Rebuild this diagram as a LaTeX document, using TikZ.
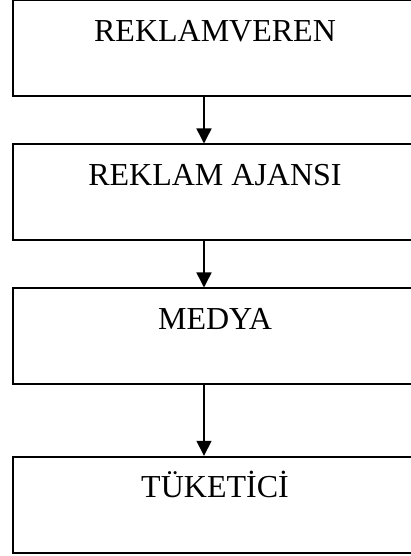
\documentclass[tikz,border=0pt]{standalone}
\usepackage{fontspec}
\setmainfont{Liberation Serif}
\usetikzlibrary{arrows.meta}
\begin{document}
\begin{tikzpicture}[x=1pt,y=1pt,
  stagebox/.style={draw=black, line width=2pt, rectangle, inner sep=0pt,
    anchor=north, minimum width=403.4pt, text height=40.7pt, text depth=55.3pt,
    font=\fontsize{32}{38}\selectfont},
  flowarrow/.style={line width=1.5pt, -{Triangle[width=15pt,length=15pt]}}]
  \useasboundingbox (0,0) rectangle (411,556);
  \clip (0,0) rectangle (411,556);
  % stages, top to bottom (y measured from the bottom edge)
  \node[stagebox] (adv)  at (215,556.5) {REKLAMVEREN};
  \node[stagebox] (agcy) at (215,412.5) {REKLAM AJANSI};
  \node[stagebox] (media) at (215,268.5) {MEDYA};
  \node[stagebox] (cons) at (215,100.2) {TÜKETİCİ};
  % flow between the stages
  \draw[flowarrow] ([xshift=-11pt]adv.south) -- ([xshift=-11pt]agcy.north);
  \draw[flowarrow] ([xshift=-11pt]agcy.south) -- ([xshift=-11pt]media.north);
  \draw[flowarrow] ([xshift=-11pt]media.south) -- ([xshift=-11pt]cons.north);
\end{tikzpicture}
\end{document}
